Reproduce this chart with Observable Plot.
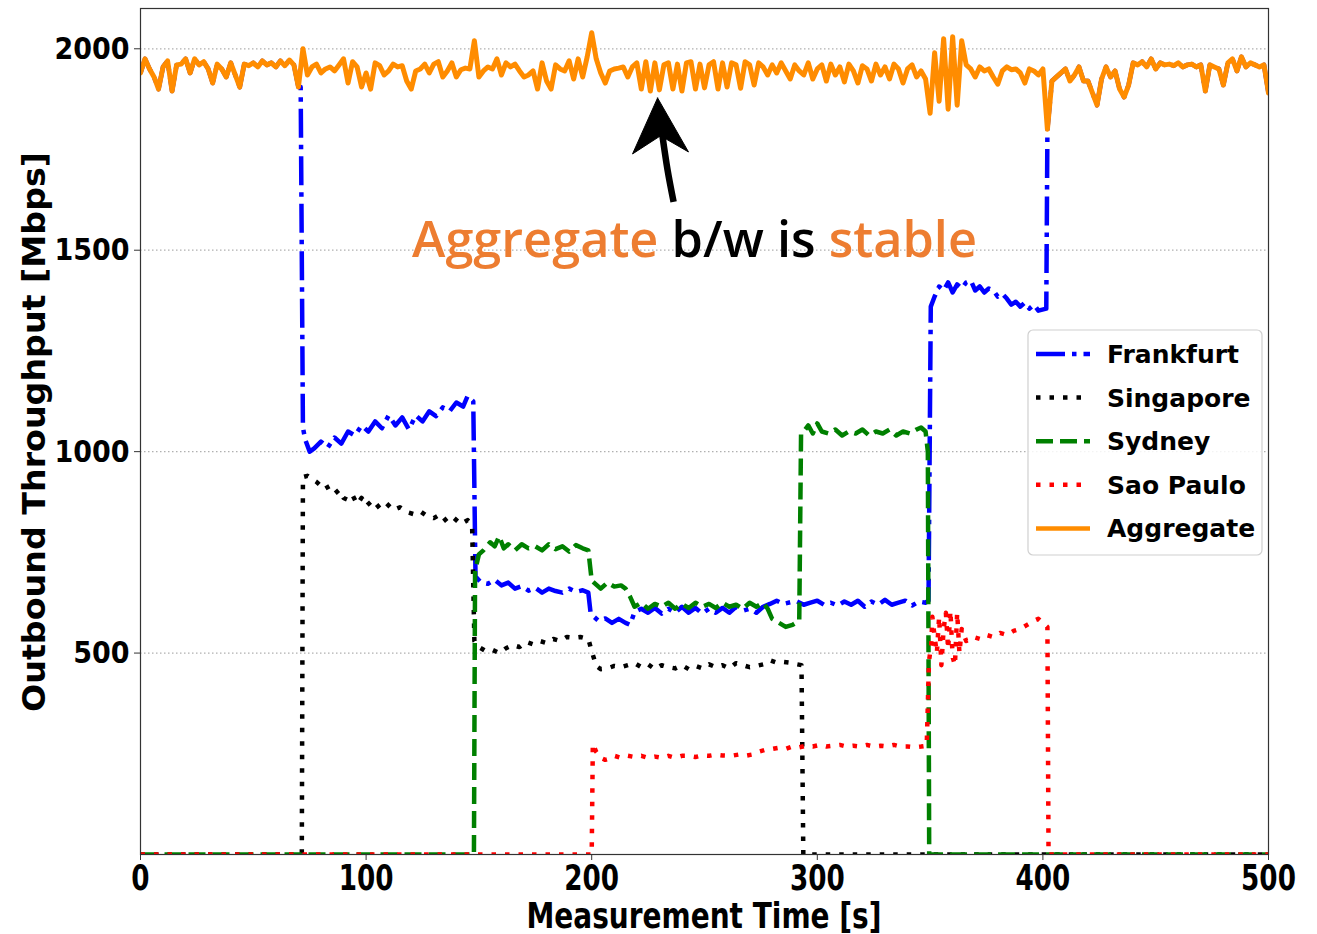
<!DOCTYPE html>
<html><head><meta charset="utf-8">
<script src="https://cdn.jsdelivr.net/npm/d3@7"></script>
<script src="https://cdn.jsdelivr.net/npm/@observablehq/plot@0.6"></script>
<style>body{margin:0;background:#fff} svg{display:block}</style>
</head><body><div id="chart"></div>
<script>
// ---------- data ----------
const xTicks = [0, 100, 200, 300, 400, 500];
const yTicks = [500, 1000, 1500, 2000];
const seriesNames = ["Frankfurt", "Singapore", "Sydney", "Sao Paulo", "Aggregate"];
const seriesColors = ["#0000ff", "#000000", "#008000", "#ff0000", "#ff8c00"];

// Aggregate, sampled every 2 s from 0 to 500
const aggregateTime = d3.range(0, 501, 2);
const aggregateValue = [
1940,1975,1950,1930,1900,1955,1970,1895,1960,1962,
1975,1940,1975,1960,1968,1950,1915,1962,1950,1930,
1965,1935,1905,1962,1958,1965,1955,1970,1960,1965,
1955,1970,1958,1972,1960,1905,2000,1935,1955,1962,
1940,1950,1955,1945,1960,1975,1915,1968,1955,1905,
1940,1900,1965,1958,1935,1945,1962,1955,1958,1920,
1900,1945,1950,1962,1940,1962,1968,1930,1945,1965,
1930,1948,1952,1950,2020,1930,1945,1955,1950,1975,
1935,1965,1955,1962,1945,1930,1935,1945,1900,1965,
1920,1900,1960,1950,1945,1970,1925,1975,1930,1980,
2040,1975,1940,1915,1945,1950,1952,1955,1930,1955,
1965,1900,1968,1895,1965,1898,1960,1965,1900,1962,
1895,1965,1968,1900,1962,1903,1960,1968,1900,1965,
1905,1965,1960,1902,1968,1960,1910,1965,1955,1935,
1960,1940,1965,1945,1925,1960,1945,1935,1965,1925,
1950,1960,1920,1962,1935,1955,1918,1962,1945,1915,
1958,1950,1920,1962,1935,1955,1925,1962,1950,1915,
1950,1960,1930,1945,1925,1840,1990,1870,2025,1850,
2030,1860,2020,1960,1950,1930,1955,1945,1950,1930,
1912,1945,1955,1948,1950,1940,1915,1950,1945,1935,
1950,1800,1920,1930,1940,1950,1920,1935,1955,1920,
1920,1890,1860,1925,1955,1930,1945,1900,1880,1910,
1965,1960,1968,1955,1975,1950,1965,1960,1962,1958,
1965,1955,1960,1962,1955,1960,1895,1960,1955,1950,
1910,1965,1975,1945,1980,1955,1965,1960,1955,1960,
1890];

// Frankfurt carries the whole aggregate before ~71 s and after ~402 s; its own trace in between:
const frankfurtTime = [71,72,73,75,77,80,83,86,89,92,95,98,101,104,107,110,113,116,119,122,125,128,131,134,137,140,143,145,147.5,148.5,151,154,157,160,163,166,169,172,175,178,181,184,187,190,193,196,198.5,199.5,201,203,206,209,212,215,217,219,222,225,228,231,234,237,240,243,246,249,252,255,258,261,264,267,270,273,276,279,282,285,288,291,294,297,300,303,306,309,312,315,318,321,324,327,330,333,336,339,342,345,348,349.3,350.3,352,354,356,358,360,362,364,366,368,370,372,374,376,378,380,382,384,386,388,390,392,394,396,398,401.5];
const frankfurtValue = [1905,1060,1030,1000,1008,1025,1010,1035,1020,1050,1040,1065,1050,1075,1058,1090,1065,1085,1055,1090,1075,1100,1088,1110,1100,1122,1112,1138,1125,690,675,672,682,668,675,660,666,655,662,650,660,654,650,660,652,656,650,600,590,580,586,575,585,575,570,602,610,600,612,598,610,600,615,600,612,598,610,600,612,600,615,605,610,600,615,622,630,622,626,628,620,625,630,620,625,618,628,620,630,615,628,620,632,620,625,630,618,628,625,630,1360,1385,1410,1400,1420,1395,1415,1405,1420,1425,1400,1410,1395,1405,1400,1385,1392,1380,1365,1372,1360,1370,1355,1365,1350,1355];

const singaporeTime = [0,71.5,72,74,76,78,80,82,84,86,88,90,92,94,96,98,100,103,106,109,112,115,118,121,124,127,130,133,136,139,142,145,147,148,150,153,156,159,162,165,168,171,174,177,180,183,186,189,192,195,198.5,200,202,204,207,210,213,216,219,222,225,228,231,234,237,240,243,246,249,252,255,258,261,264,267,270,273,276,279,282,285,288,291,293,293.8,500];
const singaporeValue = [0,0,937,940,932,925,915,920,900,895,905,885,880,892,870,885,865,880,860,872,855,862,850,845,852,840,835,845,825,835,820,830,815,530,515,505,508,500,512,520,515,528,522,530,525,535,530,540,538,540,535,505,468,460,462,468,465,470,475,465,472,460,470,465,462,470,460,468,462,472,465,470,462,475,470,465,468,472,482,476,478,476,472,470,0,0];

const sydneyTime = [0,147.8,148.3,150,152,155,157,159,161,163,166,169,172,175,178,181,184,187,190,193,196,198.5,200,202,204,207,210,213,215,217,219,222,225,228,231,234,237,240,243,246,249,252,255,258,261,264,267,270,273,276,278,280,283,286,289,292,292.8,294,296,298,300,302,305,308,311,314,317,320,323,326,329,332,335,338,341,344,346,348,349,349.6,500];
const sydneyValue = [0,0,705,745,755,775,765,790,760,770,755,770,760,765,755,770,758,765,752,768,760,755,680,670,660,675,665,668,660,640,615,625,610,622,615,625,610,622,612,625,615,622,612,625,615,620,610,625,615,625,610,585,575,565,570,580,1045,1050,1065,1045,1070,1050,1045,1055,1040,1050,1045,1055,1040,1050,1045,1055,1040,1050,1045,1055,1060,1050,1000,0,0];

const saoPauloTime = [0,200,200.5,202,204,206,208,210,213,216,219,222,225,228,231,234,237,240,243,246,249,252,255,258,262,265,268,271,274,277,280,283,286,289,292,295,298,301,304,307,310,313,316,319,322,325,328,331,334,337,340,343,346,348.5,349.5,350.5,351,352,353,354,355,356,357,358,359,360,361,362,363,364,366,369,372,375,378,381,384,387,390,393,396,398,400,402,402.5,500];
const saoPauloValue = [0,0,275,255,240,235,238,245,240,245,242,245,240,243,240,245,240,245,245,242,246,245,248,246,245,248,245,248,255,260,262,265,262,268,266,270,268,272,268,270,272,268,270,268,272,268,270,268,272,268,268,266,268,270,480,520,590,540,500,590,470,560,600,510,605,490,470,600,500,560,530,540,535,545,540,550,545,555,560,570,580,585,575,565,0,0];

// annotation (data coordinates: time, Mbps)
const annotationParts = ["Aggregate ", "b/w is ", "stable"];
const annotationColors = ["#ED7D31", "#000000", "#ED7D31"];
const annotationAt = [245.8, 1481];
const arrowHeadTime = [229.2, 242.9, 230.5, 218.1, 229.2];
const arrowHeadValue = [1878, 1744, 1784, 1739, 1878];
const arrowShaftTime = [236.3, 233.6, 231.2];
const arrowShaftValue = [1620, 1700, 1790];

// ---------- build rows ----------
const rows = (ts, vs) => ts.map((t, i) => ({t, v: vs[i]}));
const aggRows = rows(aggregateTime, aggregateValue);
const frankfurtRows = [
  ...aggRows.filter(d => d.t <= 70),
  ...rows(frankfurtTime, frankfurtValue),
  ...aggRows.filter(d => d.t >= 402)
];
const singaporeRows = rows(singaporeTime, singaporeValue);
const sydneyRows = rows(sydneyTime, sydneyValue);
const saoPauloRows = rows(saoPauloTime, saoPauloValue);
const headRows = rows(arrowHeadTime, arrowHeadValue);
const shaftRows = rows(arrowShaftTime, arrowShaftValue);

const dashes = ["29,7,4.5,7", "4.5,9", "17,7", "4.5,9", null];
const lw = 4.5;

const plot = Plot.plot({
  width: 1317, height: 934,
  marginLeft: 140, marginRight: 49, marginTop: 8, marginBottom: 80,
  style: {fontFamily: "DejaVu Sans", fontWeight: "bold", background: "#fff", color: "#000", overflow: "visible"},
  x: {domain: [0, 500]},
  y: {domain: [0, 2100]},
  marks: [
    Plot.gridY(yTicks, {stroke: "#b0b0b0", strokeOpacity: 1, strokeDasharray: "1.5,2.5", strokeWidth: 1.2}),
    Plot.line(frankfurtRows, {x: "t", y: "v", stroke: seriesColors[0], strokeWidth: lw, strokeDasharray: dashes[0], strokeLinecap: "butt", clip: true}),
    Plot.line(singaporeRows, {x: "t", y: "v", stroke: seriesColors[1], strokeWidth: lw, strokeDasharray: dashes[1], strokeLinecap: "butt", clip: true}),
    Plot.line(sydneyRows, {x: "t", y: "v", stroke: seriesColors[2], strokeWidth: lw, strokeDasharray: dashes[2], strokeLinecap: "butt", clip: true}),
    Plot.line(saoPauloRows, {x: "t", y: "v", stroke: seriesColors[3], strokeWidth: lw, strokeDasharray: dashes[3], strokeLinecap: "butt", clip: true}),
    Plot.line(aggRows, {x: "t", y: "v", stroke: seriesColors[4], strokeWidth: 5, clip: true}),
    Plot.line(shaftRows, {x: "t", y: "v", curve: "natural", stroke: "#000", strokeWidth: 6.5, strokeLinecap: "butt"}),
    Plot.line(headRows, {x: "t", y: "v", fill: "#000", stroke: "#000", strokeWidth: 1}),
    Plot.frame({stroke: "#333", strokeWidth: 1.2}),
    Plot.axisX({ticks: xTicks, tickSize: 6, tickPadding: 5, fontSize: 35, label: null, tickFormat: d => String(d), stroke: "#333"}),
    Plot.axisY({ticks: yTicks, tickSize: 6, tickPadding: 5, fontSize: 31, label: null, tickFormat: d => String(d), stroke: "#333"})
  ]
});

document.getElementById("chart").append(plot);
const svg = d3.select(plot);
const xs = plot.scale("x"), ys = plot.scale("y");

// condensed tick labels, as in the reference
svg.selectAll('g[aria-label="x-axis tick label"] text').each(function() {
  const L = this.getComputedTextLength();
  this.setAttribute("textLength", L * 0.75);
  this.setAttribute("lengthAdjust", "spacingAndGlyphs");
});
svg.selectAll('g[aria-label="y-axis tick label"] text').each(function() {
  const L = this.getComputedTextLength();
  this.setAttribute("textLength", L * 0.87);
  this.setAttribute("lengthAdjust", "spacingAndGlyphs");
});

// axis titles
svg.append("text")
  .attr("x", 704).attr("y", 928)
  .attr("text-anchor", "middle")
  .attr("font-size", 35).attr("font-weight", "bold").attr("font-family", "DejaVu Sans")
  .attr("textLength", 355).attr("lengthAdjust", "spacingAndGlyphs")
  .text("Measurement Time [s]");
svg.append("text")
  .attr("transform", "translate(45,432) rotate(-90)")
  .attr("text-anchor", "middle")
  .attr("font-size", 32).attr("font-weight", "bold").attr("font-family", "DejaVu Sans")
  .attr("textLength", 560).attr("lengthAdjust", "spacingAndGlyphs")
  .text("Outbound Throughput [Mbps]");

// annotation text
const ann = svg.append("text")
  .attr("x", xs.apply(annotationAt[0])).attr("y", ys.apply(annotationAt[1]))
  .attr("text-anchor", "middle")
  .attr("font-family", "Open Sans").attr("font-weight", 600).attr("font-size", 50)
  .attr("textLength", 565).attr("lengthAdjust", "spacingAndGlyphs");
annotationParts.forEach((p, i) => ann.append("tspan").attr("fill", annotationColors[i]).attr("xml:space", "preserve").text(p));
ann.attr("style", "white-space:pre");

// legend
const lg = svg.append("g").attr("font-family", "DejaVu Sans").attr("font-weight", "bold").attr("font-size", 25).attr("text-anchor", "start");
lg.append("rect").attr("x", 1028).attr("y", 330).attr("width", 234).attr("height", 225).attr("rx", 5)
  .attr("fill", "#fff").attr("fill-opacity", 0.85).attr("stroke", "#d0d0d0").attr("stroke-width", 1.2);
seriesNames.forEach((name, i) => {
  const cy = 354 + i * 43.6;
  lg.append("line").attr("x1", 1036).attr("x2", 1090).attr("y1", cy).attr("y2", cy)
    .attr("stroke", seriesColors[i]).attr("stroke-width", lw)
    .attr("stroke-dasharray", dashes[i]).attr("stroke-linecap", "butt");
  lg.append("text").attr("x", 1107).attr("y", cy).attr("dy", "0.36em").attr("text-anchor", "start").attr("fill", "#000").text(name);
});
</script>
</body></html>
